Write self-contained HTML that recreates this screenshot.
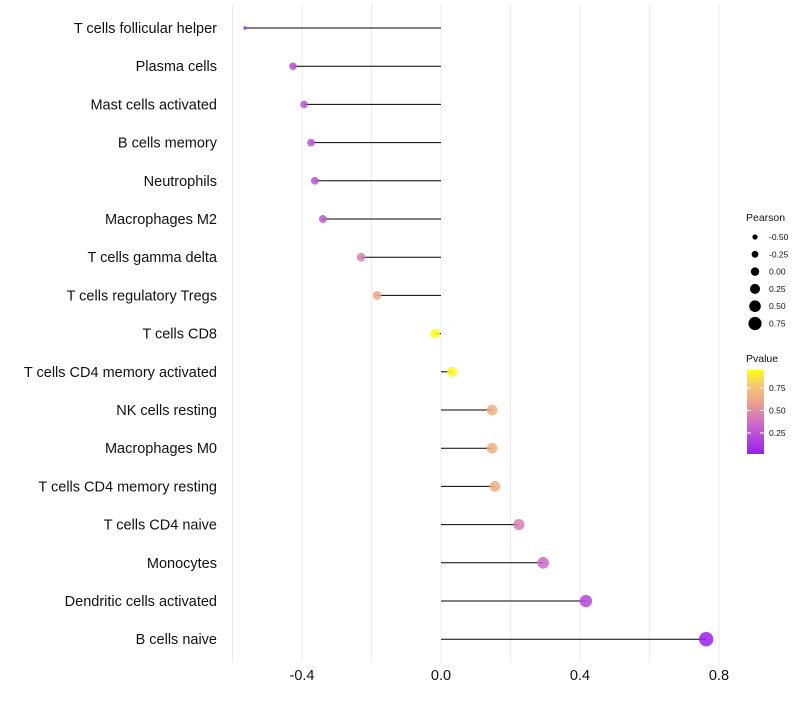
<!DOCTYPE html>
<html><head><meta charset="utf-8"><style>
body{margin:0;background:#fff;font-family:"Liberation Sans",sans-serif}
</style></head><body>
<svg id="chart" width="800" height="700" xmlns="http://www.w3.org/2000/svg">
<defs><linearGradient id="pg" x1="0" y1="1" x2="0" y2="0">
<stop offset="0" stop-color="#9b1ff0"/><stop offset="0.35" stop-color="#cc66cc"/><stop offset="0.62" stop-color="#eea38a"/><stop offset="0.82" stop-color="#f5c870"/><stop offset="1" stop-color="#ffff10"/>
</linearGradient></defs>
<g id="grid"></g><g id="marks"></g><g id="ylabels"></g><g id="xlabels"></g>
<g id="legend"></g>
</svg>
<script>
const categories=["T cells follicular helper","Plasma cells","Mast cells activated","B cells memory","Neutrophils","Macrophages M2","T cells gamma delta","T cells regulatory  Tregs","T cells CD8","T cells CD4 memory activated","NK cells resting","Macrophages M0","T cells CD4 memory resting","T cells CD4 naive","Monocytes","Dendritic cells activated","B cells naive"];
const pearson=[-0.564,-0.426,-0.394,-0.374,-0.363,-0.340,-0.230,-0.184,-0.017,0.032,0.147,0.147,0.155,0.224,0.294,0.417,0.763];
const pvalue=[0.08,0.22,0.25,0.25,0.25,0.27,0.45,0.62,0.95,0.93,0.66,0.66,0.66,0.45,0.36,0.2,0.03];
const xTicks=[-0.4,0.0,0.4,0.8];
const xTickLabels=["-0.4","0.0","0.4","0.8"];
const sizeLegend=[-0.5,-0.25,0,0.25,0.5,0.75];
const colorLegend=[0.25,0.5,0.75];
const NS="http://www.w3.org/2000/svg";
const x=v=>441+v*347.5;
const y=i=>28+i*38.2;
const rad=p=>p<-0.43?Math.max(1.5,3.7+15*(p+0.43)):3.7+2.9*(p+0.43);
const lrad=p=>2.6+(p+0.5)*3.2;
const stops=[[0,[155,31,240]],[0.35,[204,102,204]],[0.62,[238,163,138]],[0.82,[245,200,112]],[1,[255,255,16]]];
function col(p){let t=Math.max(0,Math.min(1,(p-0.03)/0.92));for(let k=1;k<stops.length;k++){if(t<=stops[k][0]){const a=stops[k-1],b=stops[k];const f=(t-a[0])/(b[0]-a[0]);const c=a[1].map((v,j)=>Math.round(v+(b[1][j]-v)*f));return `rgb(${c})`;}}return "rgb(255,255,16)";}
function mk(tag,at,parent){const e=document.createElementNS(NS,tag);for(const k in at)e.setAttribute(k,at[k]);document.getElementById(parent).appendChild(e);return e;}
for(let v=-0.6;v<=0.81;v+=0.2){const g=mk("line",{x1:x(v),x2:x(v),y1:5,y2:662,stroke:"#ebebeb","stroke-width":1},"grid");

}
categories.forEach((c,i)=>{
const l=mk("line",{x1:x(0),x2:x(pearson[i]),y1:y(i),y2:y(i),stroke:"#000","stroke-width":1},"marks");


const d=mk("circle",{cx:x(pearson[i]),cy:y(i),r:rad(pearson[i]),fill:col(pvalue[i]),"fill-opacity":0.85},"marks");


const t=mk("text",{x:217,y:y(i)+5,"text-anchor":"end","font-size":14.5,fill:"#111"},"ylabels");t.textContent=c;


});
xTicks.forEach((v,i)=>{const t=mk("text",{x:x(v),y:680,"text-anchor":"middle","font-size":14.5,fill:"#111"},"xlabels");t.textContent=xTickLabels[i];

});
let t=mk("text",{x:746,y:221,"font-size":10.5,fill:"#111"},"legend");t.textContent="Pearson";


sizeLegend.forEach((v,i)=>{const yy=237+i*17.3;
const c=mk("circle",{cx:755,cy:yy,r:lrad(v),fill:"#000"},"legend");


const s=mk("text",{x:769,y:yy+3,"font-size":8.5,fill:"#111"},"legend");s.textContent=v.toFixed(2);

});
t=mk("text",{x:746,y:362,"font-size":10.5,fill:"#111"},"legend");t.textContent="Pvalue";


const bar=mk("rect",{x:747,y:370,width:17,height:84,fill:"url(#pg)"},"legend");


colorLegend.forEach(v=>{const yy=433-(v-0.25)*90;
mk("line",{x1:747,x2:751,y1:yy,y2:yy,stroke:"#fff"},"legend");mk("line",{x1:760,x2:764,y1:yy,y2:yy,stroke:"#fff"},"legend");
const s=mk("text",{x:769,y:yy+3,"font-size":8.5,fill:"#111"},"legend");s.textContent=v.toFixed(2);

});
</script>
</body></html>
